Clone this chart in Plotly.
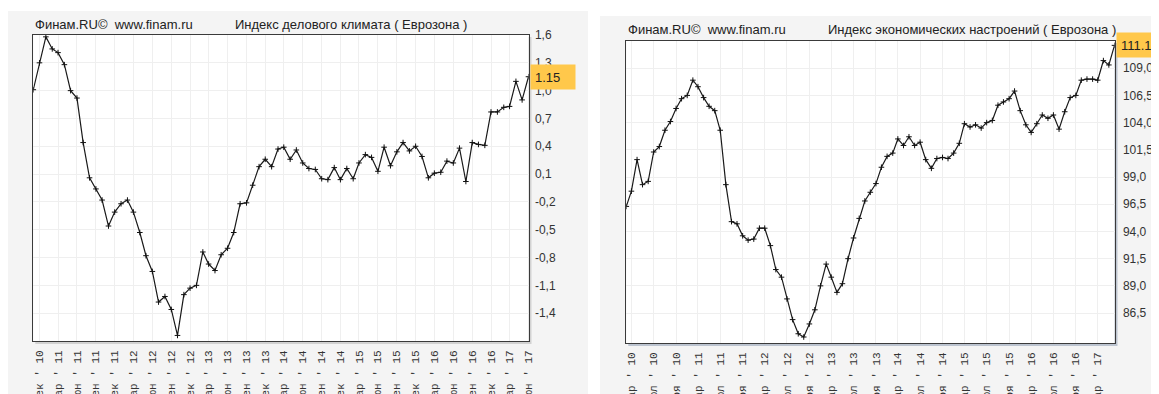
import pandas as pd
import plotly.graph_objects as go

# the page body has an 8px margin, so the figure is laid out in page pixels
# and shifted back by that offset
PAGE_W, PAGE_H = 1159, 394
OFFSET = 8
W, H = PAGE_W - OFFSET, PAGE_H - OFFSET

# Индекс делового климата (Еврозона), ноя 2010 - июн 2017
bci_values = [1.01, 1.30, 1.58, 1.45, 1.41, 1.28, 1.00, 0.92, 0.44, 0.06,
              -0.06, -0.18, -0.46, -0.31, -0.22, -0.18, -0.31, -0.53, -0.78, -0.95,
              -1.28, -1.22, -1.36, -1.64, -1.20, -1.13, -1.10, -0.74, -0.87, -0.94,
              -0.77, -0.70, -0.53, -0.22, -0.21, -0.02, 0.18, 0.26, 0.18, 0.37,
              0.39, 0.26, 0.36, 0.22, 0.16, 0.15, 0.05, 0.04, 0.17, 0.04,
              0.16, 0.05, 0.22, 0.31, 0.28, 0.13, 0.39, 0.19, 0.34, 0.44,
              0.35, 0.40, 0.29, 0.06, 0.11, 0.12, 0.24, 0.22, 0.38, 0.02,
              0.44, 0.42, 0.41, 0.77, 0.77, 0.82, 0.83, 1.10, 0.90, 1.15]

# Индекс экономических настроений (Еврозона), фев 2010 - июн 2017
esi_values = [96.3, 97.7, 100.6, 98.3, 98.6, 101.3, 101.8, 103.3, 104.1, 105.3, 106.2,
              106.5, 107.9, 107.3, 106.3, 105.5, 105.1, 103.3, 98.3, 94.9, 94.7, 93.6, 93.2,
              93.3, 94.3, 94.3, 92.7, 90.5, 89.8, 87.8, 85.9, 84.6, 84.3, 85.5, 86.8,
              89.0, 91.0, 89.8, 88.4, 89.2, 91.5, 93.4, 95.2, 96.8, 97.6, 98.4, 99.9,
              100.9, 101.2, 102.5, 101.9, 102.7, 101.9, 102.2, 100.6, 99.8, 100.7, 100.8, 100.7,
              101.2, 102.1, 103.9, 103.6, 103.8, 103.5, 104.0, 104.2, 105.6, 105.9, 106.2, 106.9,
              105.1, 103.8, 103.1, 103.9, 104.7, 104.4, 104.7, 103.4, 105.0, 106.3, 106.5, 107.9,
              108.0, 108.0, 107.9, 109.7, 109.3, 111.1]

bci_dates = pd.date_range("2010-11-01", periods=len(bci_values), freq="MS")
esi_dates = pd.date_range("2010-02-01", periods=len(esi_values), freq="MS")

MONTHS = ["Янв", "Фев", "Мар", "Апр", "Май", "Июн",
          "Июл", "Авг", "Сен", "Окт", "Ноя", "Дек"]

bci_xticks = pd.date_range("2010-12-01", "2017-06-01", freq="3MS")
esi_xticks = pd.date_range("2010-03-01", "2017-03-01", freq="4MS")

bci_yticks = [1.6, 1.3, 1.0, 0.7, 0.4, 0.1, -0.2, -0.5, -0.8, -1.1, -1.4]
esi_yticks = [109.0, 106.5, 104.0, 101.5, 99.0, 96.5, 94.0, 91.5, 89.0, 86.5]

bci_title = "Индекс делового климата ( Еврозона )"
esi_title = "Индекс экономических настроений ( Еврозона )"
source_text = "Финам.RU©  www.finam.ru"

FONT = "Liberation Sans"
MONO = "Liberation Mono"


def px(x):
    return (x - OFFSET) / W


def py(y):
    return 1 - (y - OFFSET) / H


def month_label(d):
    return f"{MONTHS[d.month - 1]} ' {d.strftime('%y')}"


def comma(v):
    return f"{v:.1f}".replace(".", ",")


# pixel boxes of the two panels in page pixels: (plot left, top, right, bottom)
panels = [
    dict(box=(33.3, 35, 528.5, 341), bg=(8, 11, 588, PAGE_H), shadow="#d2d2d2"),
    dict(box=(626.3, 41, 1114.5, 343), bg=(600, 16, PAGE_W, PAGE_H), shadow="#bcc4d0"),
]

fig = go.Figure()

series = [
    (bci_dates, bci_values, "x", "y"),
    (esi_dates, esi_values, "x2", "y2"),
]
for dates, values, xa, ya in series:
    fig.add_trace(go.Scatter(
        x=dates, y=values, xaxis=xa, yaxis=ya,
        mode="lines+markers",
        line=dict(color="#1a1a1a", width=1.2),
        marker=dict(symbol="cross-thin", size=4, line=dict(color="#111111", width=1)),
        hoverinfo="x+y",
        showlegend=False,
    ))

shapes = []
for p in panels:
    l, t, r, b = p["box"]
    bl, bt, br, bb = p["bg"]
    shapes.append(dict(type="rect", xref="paper", yref="paper", layer="below",
                       x0=px(bl), x1=px(br), y0=py(bb), y1=py(bt),
                       fillcolor="#f4f4f4", line=dict(width=0)))
    shapes.append(dict(type="rect", xref="paper", yref="paper", layer="below",
                       x0=px(l + 2), x1=px(r + 3), y0=py(b + 3), y1=py(t + 2),
                       fillcolor=p["shadow"], line=dict(width=0)))
    shapes.append(dict(type="rect", xref="paper", yref="paper", layer="below",
                       x0=px(l), x1=px(r), y0=py(b), y1=py(t),
                       fillcolor="white", line=dict(width=0)))

axis_common = dict(
    showline=True, mirror=True, linecolor="#3a3a3a", linewidth=1,
    showgrid=True, gridcolor="#efefef", gridwidth=1,
    zeroline=False, ticks="", automargin=False,
)

l, t, r, b = panels[0]["box"]
fig.update_layout(
    xaxis=dict(
        domain=[px(l), px(r)], anchor="y",
        range=[bci_dates[0], bci_dates[-1]],
        tickmode="array", tickvals=list(bci_xticks),
        ticktext=[month_label(d) for d in bci_xticks],
        tickangle=-90, ticklabelstandoff=4,
        tickfont=dict(family=MONO, size=11, color="#333333"),
        **axis_common,
    ),
    yaxis=dict(
        domain=[py(b), py(t)], anchor="x", side="right",
        range=[-1.70, 1.6],
        tickmode="array", tickvals=bci_yticks,
        ticktext=[comma(v) for v in bci_yticks],
        ticklabelstandoff=3,
        tickfont=dict(family=FONT, size=12, color="#333333"),
        **axis_common,
    ),
)

l, t, r, b = panels[1]["box"]
fig.update_layout(
    xaxis2=dict(
        domain=[px(l), px(r)], anchor="y2",
        range=[esi_dates[0], esi_dates[-1]],
        tickmode="array", tickvals=list(esi_xticks),
        ticktext=[month_label(d) for d in esi_xticks],
        tickangle=-90, ticklabelstandoff=4,
        tickfont=dict(family=MONO, size=11, color="#333333"),
        **axis_common,
    ),
    yaxis2=dict(
        domain=[py(b), py(t)], anchor="x2", side="right",
        range=[83.75, 111.5],
        tickmode="array", tickvals=esi_yticks,
        ticktext=[comma(v) for v in esi_yticks],
        ticklabelstandoff=5,
        tickfont=dict(family=FONT, size=12, color="#333333"),
        **axis_common,
    ),
)

annotations = []
# headers above each plot
for (l, t, r, b), title, title_x in [(panels[0]["box"], bci_title, 233),
                                     (panels[1]["box"], esi_title, 826)]:
    annotations.append(dict(xref="paper", yref="paper", x=px(l), y=py(t - 11),
                            xanchor="left", yanchor="middle", showarrow=False,
                            text=source_text,
                            font=dict(family=FONT, size=13, color="#222222")))
    annotations.append(dict(xref="paper", yref="paper", x=px(title_x), y=py(t - 11),
                            xanchor="left", yanchor="middle", showarrow=False,
                            text=title,
                            font=dict(family=FONT, size=13, color="#222222")))

# orange badge with the last value
for (l, t, r, b), values, ya in [(panels[0]["box"], bci_values, "y"),
                                 (panels[1]["box"], esi_values, "y2")]:
    last = values[-1]
    annotations.append(dict(xref="paper", yref=ya, x=px(r + 1), y=last,
                            xanchor="left", yanchor="middle", showarrow=False,
                            text=f"{last:g}", align="left",
                            bgcolor="#ffc84b", borderpad=4,
                            width=36, height=16,
                            font=dict(family=FONT, size=13, color="#222222")))

fig.update_layout(
    width=W, height=H,
    margin=dict(l=0, r=0, t=0, b=0),
    paper_bgcolor="white",
    plot_bgcolor="white",
    shapes=shapes,
    annotations=annotations,
    showlegend=False,
)

fig.write_html("out.html")
